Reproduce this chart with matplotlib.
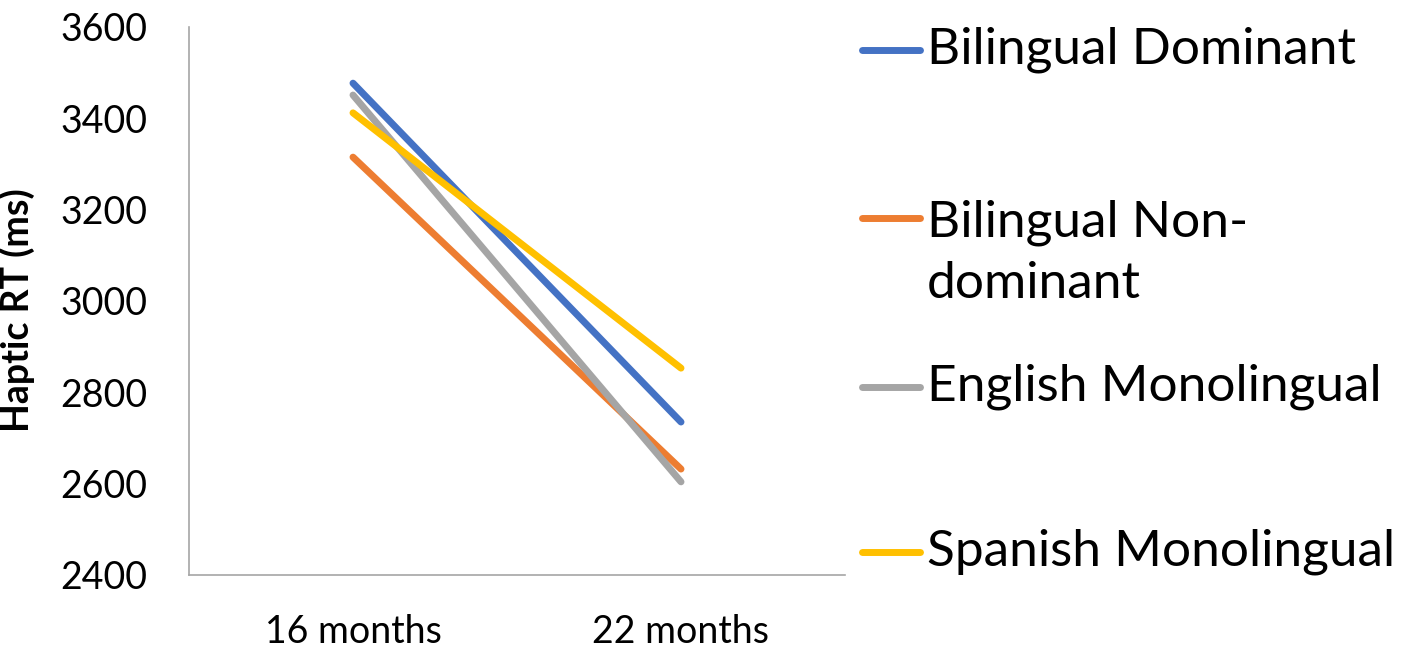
import matplotlib
matplotlib.use("Agg")
import matplotlib.pyplot as plt
from matplotlib.lines import Line2D

# data
ages = ["16 months", "22 months"]
bilingual_dominant = [3477, 2735]
bilingual_nondominant = [3315, 2632]
english_mono = [3451, 2604]
spanish_mono = [3412, 2853]

series = [
    ("Bilingual Dominant", bilingual_dominant, "#4472C4"),
    ("Bilingual Non-\ndominant", bilingual_nondominant, "#ED7D31"),
    ("English Monolingual", english_mono, "#A5A5A5"),
    ("Spanish Monolingual", spanish_mono, "#FFC000"),
]

plt.rcParams["font.family"] = ["Lato", "DejaVu Sans"]

fig = plt.figure(figsize=(14.12, 6.53), dpi=100)
W, H = 1412, 653
ax = fig.add_axes([189 / W, 1 - 575 / H, (845 - 189) / W, (575 - 27) / H])

x = list(range(len(ages)))
for name, vals, col in series:
    ax.plot(x, vals, color=col, lw=5, solid_capstyle="round")

ax.set_xlim(-0.5, 1.5)
ax.set_ylim(2400, 3600)
ax.set_yticks(range(2400, 3601, 200))
ax.set_xticks(x)
ax.set_xticklabels(ages)
ax.tick_params(length=0, labelsize=27, colors="black")
ax.tick_params(axis="x", pad=28)
ax.tick_params(axis="y", pad=30)
for s in ["top", "right"]:
    ax.spines[s].set_visible(False)
for s in ["left", "bottom"]:
    ax.spines[s].set_color("#A6A6A6")
    ax.spines[s].set_linewidth(1.2)
ax.set_ylabel("Haptic RT (ms)", fontsize=27, fontweight="bold")
ax.yaxis.set_label_coords(35 / W, 1 - 310 / H, transform=fig.transFigure)

# legend drawn by hand (Excel-style uneven spacing)
leg_y = [50, 218, 387, 552]
for (name, vals, col), yy in zip(series, leg_y):
    fy = 1 - yy / H
    fig.add_artist(Line2D([862 / W, 920 / W], [fy, fy], color=col, lw=5,
                          solid_capstyle="round", transform=fig.transFigure))
    ty = fy
    if "\n" in name:
        ty = 1 - (yy + 35) / H
    fig.text(927 / W, ty, name, fontsize=37, va="center", ha="left",
             linespacing=1.4)

fig.savefig("out.png", dpi=100)
